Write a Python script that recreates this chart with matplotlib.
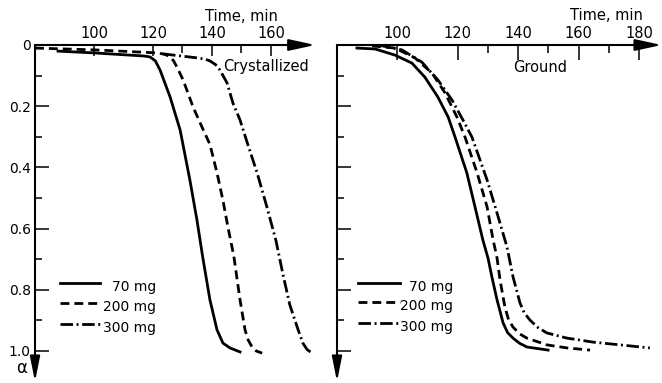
import matplotlib.pyplot as plt
from matplotlib.ticker import FixedLocator

# Conversion degree alpha vs. time, crystallized and ground samples
sample_labels = ["70 mg", "200 mg", "300 mg"]

cryst_70_t = [87.8, 100.3, 117.0, 119.0, 120.8, 122.4, 125.8, 129.2, 132.5, 134.9, 136.8, 139.3,
              141.7, 143.7, 146.1, 149.5]
cryst_70_a = [0.020, 0.026, 0.036, 0.039, 0.052, 0.082, 0.170, 0.278, 0.441, 0.572, 0.690, 0.833,
              0.931, 0.974, 0.990, 1.003]

cryst_200_t = [80.0, 100.3, 121.7, 124.2, 125.8, 127.0, 128.1, 130.2, 133.6, 136.6, 139.3, 141.7,
               143.7, 145.4, 147.4, 149.5, 151.2, 152.3, 153.6, 155.0, 157.0]
cryst_200_a = [0.010, 0.016, 0.026, 0.031, 0.039, 0.052, 0.072, 0.114, 0.203, 0.268, 0.325, 0.418,
               0.507, 0.595, 0.690, 0.833, 0.931, 0.965, 0.987, 1.000, 1.007]

cryst_300_t = [123.4, 134.9, 137.5, 139.3, 141.2, 142.7, 145.1, 147.1, 149.5, 152.2, 155.3, 158.6,
               161.7, 164.1, 166.4, 169.2, 170.8, 172.2, 173.9]
cryst_300_a = [0.029, 0.042, 0.046, 0.052, 0.064, 0.082, 0.124, 0.190, 0.245, 0.327, 0.418, 0.529,
               0.640, 0.752, 0.850, 0.931, 0.974, 0.995, 1.007]

ground_70_t = [86.6, 92.6, 99.2, 104.8, 109.1, 113.4, 116.8, 119.1, 123.0, 125.7, 128.3, 130.0,
               131.3, 133.0, 135.0, 136.5, 138.3, 140.5, 142.9, 149.9]
ground_70_a = [0.010, 0.013, 0.033, 0.059, 0.105, 0.170, 0.235, 0.301, 0.418, 0.529, 0.637, 0.696,
               0.758, 0.833, 0.908, 0.940, 0.958, 0.975, 0.987, 0.997]

ground_200_t = [91.6, 99.2, 105.8, 111.5, 115.8, 119.7, 122.4, 126.4, 129.7, 131.7, 133.0, 134.0,
                135.6, 136.8, 138.3, 140.5, 142.9, 149.5, 156.2, 163.8]
ground_200_a = [0.003, 0.010, 0.042, 0.092, 0.157, 0.235, 0.301, 0.418, 0.529, 0.637, 0.696, 0.768,
                0.856, 0.897, 0.922, 0.944, 0.958, 0.980, 0.990, 0.997]

ground_300_t = [93.6, 101.5, 108.1, 113.4, 118.1, 121.7, 124.7, 129.7, 133.0, 136.3, 138.3, 140.6,
                142.0, 143.9, 146.5, 149.5, 156.2, 164.8, 173.7, 183.6]
ground_300_a = [0.000, 0.016, 0.056, 0.114, 0.180, 0.245, 0.301, 0.441, 0.549, 0.660, 0.758, 0.843,
                0.875, 0.899, 0.923, 0.941, 0.958, 0.971, 0.980, 0.990]

x_major_left = [100, 120, 140, 160]
x_minor_left = [130, 150]
x_major_right = [100, 120, 140, 160, 180]
x_minor_right = [130, 150, 170]
y_major = [0, 0.2, 0.4, 0.6, 0.8, 1.0]
y_minor = [0.1, 0.3, 0.5, 0.7, 0.9]
y_labels = ["0", "0.2", "0.4", "0.6", "0.8", "1.0"]

styles = [dict(ls="-"), dict(dashes=(3.2, 1.8)), dict(dashes=(4.5, 1.3, 0.7, 1.3))]
LW = 2.0

W, H = 662, 383
fig = plt.figure(figsize=(W / 100, H / 100), dpi=100)

# axes placed in pixel units: 0 of alpha at y=45 px, 306 px per unit of alpha
ax1 = fig.add_axes([35 / W, (H - 381.6) / H, 280.25 / W, 336.6 / H])
ax2 = fig.add_axes([337 / W, (H - 381.6) / H, 324.6 / W, 336.6 / H])


def setup_axis(ax, xmax, xmaj, xmin, maj_len, show_ylabels):
    ax.set_xlim(80, xmax)
    ax.set_ylim(1.1, 0)
    for s in ax.spines.values():
        s.set_visible(False)
    ax.xaxis.tick_top()
    ax.xaxis.set_major_locator(FixedLocator(xmaj))
    ax.xaxis.set_minor_locator(FixedLocator(xmin))
    ax.set_xticklabels([str(v) for v in xmaj], family="Liberation Sans Narrow", fontsize=10.5)
    ax.tick_params(axis="x", which="major", direction="in", length=maj_len, width=1.1, pad=3)
    ax.tick_params(axis="x", which="minor", direction="in", length=5.5, width=1.1)
    ax.yaxis.set_major_locator(FixedLocator(y_major))
    ax.yaxis.set_minor_locator(FixedLocator(y_minor))
    ax.tick_params(axis="y", which="major", direction="in", length=10, width=1.1, pad=3)
    ax.tick_params(axis="y", which="minor", direction="in", length=5, width=1.1)
    if show_ylabels:
        ax.set_yticklabels(y_labels, fontsize=10)
    else:
        ax.set_yticklabels([])
    # axis lines ending in arrows
    ax.annotate("", xy=(1, 1), xytext=(0, 1), xycoords="axes fraction",
                arrowprops=dict(arrowstyle="-|>,head_length=1.6,head_width=0.35",
                                lw=1.5, color="k", shrinkA=0, shrinkB=0),
                annotation_clip=False)
    ax.annotate("", xy=(0, 0), xytext=(0, 1), xycoords="axes fraction",
                arrowprops=dict(arrowstyle="-|>,head_length=1.5,head_width=0.3",
                                lw=1.5, color="k", shrinkA=0, shrinkB=0),
                annotation_clip=False)


setup_axis(ax1, 175, x_major_left, x_minor_left, 8, True)
setup_axis(ax2, 187.5, x_major_right, x_minor_right, 11, False)

for t, a, st in zip([cryst_70_t, cryst_200_t, cryst_300_t],
                    [cryst_70_a, cryst_200_a, cryst_300_a], styles):
    ax1.plot(t, a, color="k", lw=LW, solid_joinstyle="round", dash_joinstyle="round", **st)

for t, a, st in zip([ground_70_t, ground_200_t, ground_300_t],
                    [ground_70_a, ground_200_a, ground_300_a], styles):
    ax2.plot(t, a, color="k", lw=LW, solid_joinstyle="round", dash_joinstyle="round", **st)

# key for the sample masses
for ax, (x0, x1, xt), rows in [
    (ax1, (88.5, 102.0, 121.0), [0.778, 0.843, 0.912]),
    (ax2, (87.0, 100.9, 118.4), [0.778, 0.840, 0.908]),
]:
    for lab, yy, st in zip(sample_labels, rows, styles):
        ax.plot([x0, x1], [yy, yy], color="k", lw=LW, **st)
        ax.text(xt, yy + 0.012, lab, ha="right", va="center", fontsize=10)

ax1.text(162.4, -0.092, "Time, min", ha="right", va="center", fontsize=10.5)
ax2.text(181.3, -0.098, "Time, min", ha="right", va="center", fontsize=10.5)
ax1.text(143.7, 0.069, "Crystallized", ha="left", va="center", fontsize=10.5)
ax2.text(138.3, 0.072, "Ground", ha="left", va="center", fontsize=10.5)
ax1.text(75.6, 1.055, "α", ha="center", va="center", fontsize=12)

fig.savefig("out.png", dpi=100)
